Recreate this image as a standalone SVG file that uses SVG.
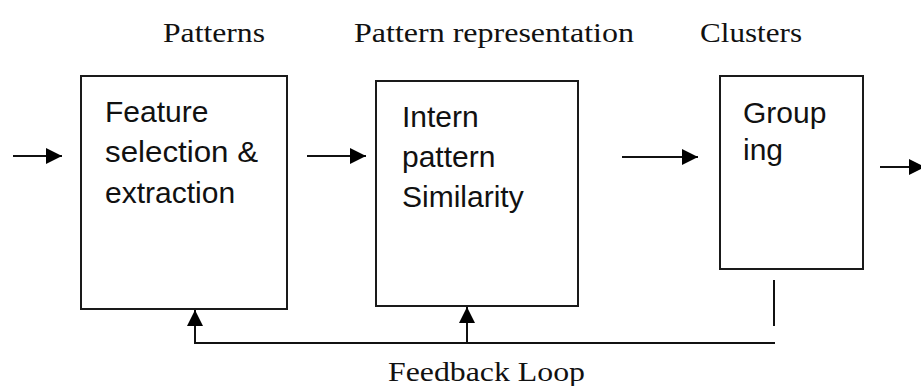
<svg xmlns="http://www.w3.org/2000/svg" width="921" height="386" viewBox="0 0 921 386">
  <style>
    .box { fill: #ffffff; stroke: #1a1a1a; stroke-width: 2; }
    .lbl { font-family: "Liberation Sans", Arial, sans-serif; font-size: 30px; fill: #111111; }
    .hdr { font-family: "Liberation Serif", "Times New Roman", serif; font-size: 27px; fill: #111111; }
    .wire { fill: none; stroke: #111111; stroke-width: 2; }
  </style>
  <defs>
    <marker id="head" markerUnits="userSpaceOnUse" markerWidth="18" markerHeight="18" refX="16" refY="8" orient="auto">
      <path d="M0,0 L16,8 L0,16 Z" fill="#000000"/>
    </marker>
  </defs>
  <rect width="921" height="386" fill="#ffffff"/>

  <!-- stage captions -->
  <g id="captions">
    <text class="hdr" x="163" y="42" textLength="102" lengthAdjust="spacingAndGlyphs">Patterns</text>
    <text class="hdr" x="354" y="42" textLength="280" lengthAdjust="spacingAndGlyphs">Pattern representation</text>
    <text class="hdr" x="700" y="42" textLength="102" lengthAdjust="spacingAndGlyphs">Clusters</text>
  </g>

  <g id="feature-selection">
    <rect class="box" x="81" y="76" width="206" height="233"/>
    <text class="lbl" x="105" y="122">Feature</text>
    <text class="lbl" x="105" y="162" textLength="153" lengthAdjust="spacingAndGlyphs">selection &amp;</text>
    <text class="lbl" x="105" y="203">extraction</text>
  </g>

  <g id="similarity">
    <rect class="box" x="376" y="81" width="202" height="225"/>
    <text class="lbl" x="402" y="127">Intern</text>
    <text class="lbl" x="402" y="167">pattern</text>
    <text class="lbl" x="402" y="207">Similarity</text>
  </g>

  <g id="grouping">
    <rect class="box" x="720" y="76" width="143" height="193"/>
    <text class="lbl" x="743" y="123">Group</text>
    <text class="lbl" x="743" y="160">ing</text>
  </g>

  <g id="connectors">
    <line class="wire" x1="13" y1="156" x2="62" y2="156" marker-end="url(#head)"/>
    <line class="wire" x1="307" y1="156" x2="366" y2="156" marker-end="url(#head)"/>
    <line class="wire" x1="622" y1="157" x2="698" y2="157" marker-end="url(#head)"/>
    <line class="wire" x1="880" y1="167" x2="925" y2="167" marker-end="url(#head)"/>
    <!-- feedback loop -->
    <line class="wire" x1="774" y1="280" x2="774" y2="326"/>
    <polyline class="wire" points="775,343 195,343 195,326"/>
    <line class="wire" x1="195" y1="343" x2="195" y2="310" marker-end="url(#head)"/>
    <line class="wire" x1="467" y1="343" x2="467" y2="307" marker-end="url(#head)"/>
  </g>

  <g id="feedback-label">
    <text class="hdr" x="388" y="381" textLength="197" lengthAdjust="spacingAndGlyphs">Feedback Loop</text>
  </g>
</svg>
